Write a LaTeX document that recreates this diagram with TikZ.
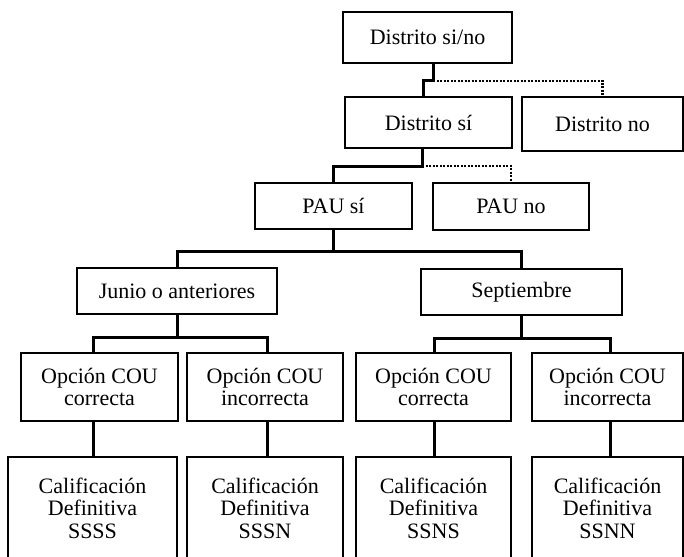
\documentclass[tikz,border=0pt]{standalone}
\usepackage{fontspec}
\setmainfont{Liberation Serif}
\begin{document}
\begin{tikzpicture}[x=1pt,y=-1pt,
  box/.style={draw, line width=2pt, inner sep=0pt, align=center,
    font=\fontsize{22}{22.5}\selectfont},
  txt/.style={inner sep=0pt, align=center, font=\fontsize{22}{22.5}\selectfont},
  conn/.style={line width=3pt, line join=miter},
  dotl/.style={line width=2.6pt, dash pattern=on 2pt off 1.5pt}]
\clip (0,0) rectangle (684,556);
\fill[white] (0,0) rectangle (684,556);
% level 1
\node[box, minimum width=169, minimum height=51] (top) at (427.5,37.5) {Distrito si/no};
% level 2
\node[box, minimum width=167, minimum height=51] (dsi) at (428.5,122.5) {Distrito sí};
\node[box, minimum width=161, minimum height=54] (dno) at (602.5,124) {Distrito no};
% level 3
\node[box, minimum width=157, minimum height=46] (pausi) at (333.5,206) {PAU sí};
\node[box, minimum width=156, minimum height=47] (pauno) at (511,206.5) {PAU no};
% level 4
\node[box, minimum width=200, minimum height=46] (junio) at (177,291) {Junio o anteriores};
\node[box, minimum width=201, minimum height=46] (sept) at (521.5,292) {Septiembre};
% level 5
\node[box, minimum width=157, minimum height=68] (oA) at (99.5,387) {Opción COU\\correcta};
\node[box, minimum width=156, minimum height=68] (oB) at (265,387) {Opción COU\\incorrecta};
\node[box, minimum width=155, minimum height=68] (oC) at (433.5,387) {Opción COU\\correcta};
\node[box, minimum width=151, minimum height=68] (oD) at (607.5,387) {Opción COU\\incorrecta};
% level 6
\node[box, minimum width=169, minimum height=120] (cA) at (92.5,517) {};
\node[box, minimum width=156, minimum height=120] (cB) at (265,517) {};
\node[box, minimum width=155, minimum height=120] (cC) at (433.5,517) {};
\node[box, minimum width=151, minimum height=120] (cD) at (607.5,517) {};
\node[txt] (tA) at (92.5,508) {Calificación\\Definitiva\\SSSS};
\node[txt] (tB) at (265,508) {Calificación\\Definitiva\\SSSN};
\node[txt] (tC) at (433.5,508) {Calificación\\Definitiva\\SSNS};
\node[txt] (tD) at (607.5,508) {Calificación\\Definitiva\\SSNN};
% connectors
\draw[conn] ([xshift=5.5pt]top.south) -- ++(0,17) -| ([xshift=-5.5pt]dsi.north);
\draw[dotl] ([xshift=5.5pt,yshift=-17pt]top.south) -| (dno.north);
\draw[conn] ([xshift=-6.5pt]dsi.south) -- ++(0,17) -| (pausi.north);
\draw[dotl] ([xshift=-6.5pt,yshift=-17pt]dsi.south) -| (pauno.north);
\coordinate (j1) at ([yshift=-21pt]pausi.south);
\draw[conn] (pausi.south) -- (j1);
\draw[conn] (junio.north) |- (j1) -| (sept.north);
\coordinate (j2) at ([yshift=-22pt]junio.south);
\draw[conn] (junio.south) -- (j2);
\draw[conn] ([xshift=-6.5pt]oA.north) |- (j2) -| ([xshift=2pt]oB.north);
\coordinate (j3) at ([yshift=-22pt]sept.south);
\draw[conn] (sept.south) -- (j3);
\draw[conn] ([xshift=0.5pt]oC.north) |- (j3) -| ([xshift=2.5pt]oD.north);
\draw[conn] ([xshift=-6.5pt]oA.south) -- ([xshift=0.5pt]cA.north);
\draw[conn] ([xshift=2pt]oB.south) -- ([xshift=2pt]cB.north);
\draw[conn] ([xshift=0.5pt]oC.south) -- ([xshift=0.5pt]cC.north);
\draw[conn] ([xshift=2.5pt]oD.south) -- ([xshift=2.5pt]cD.north);
\end{tikzpicture}
\end{document}
